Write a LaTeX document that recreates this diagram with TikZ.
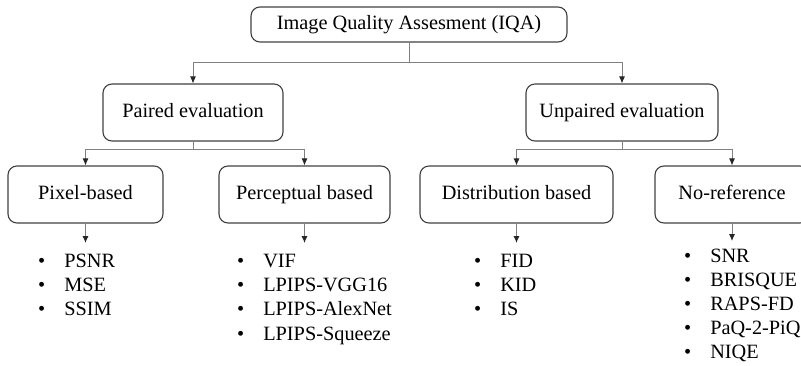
\documentclass[tikz,border=0pt]{standalone}
\usepackage{fontspec}
\setmainfont{Liberation Serif}
\usetikzlibrary{arrows.meta}

\begin{document}
\begin{tikzpicture}[x=1pt, y=-1pt,
    every node/.style={font=\fontsize{20.3}{24.3}\selectfont},
    box/.style={draw=black!75, line width=1.1pt, rounded corners=9pt, minimum height=57pt,
        inner sep=0pt, text height=14pt, text depth=4.5pt},
    conn/.style={draw=black!50, line width=0.9pt},
    arr/.style={conn, -{Latex[length=7pt,width=6pt,color=black!85]}},
    metrics/.style={anchor=north west, inner xsep=0pt, inner ysep=7pt}]
    \useasboundingbox (0,0) rectangle (801,365);
    \clip (0,0) rectangle (801,365);
    % levels of the tree
    \node[box, minimum width=316pt, minimum height=35pt] (iqa) at (409,24.5) {Image Quality Assesment (IQA)};
    \node[box, minimum width=180pt] (paired) at (193,112.5) {Paired evaluation};
    \node[box, minimum width=192pt] (unpaired) at (622,112.5) {Unpaired evaluation};
    \node[box, minimum width=155pt] (pixel) at (85.5,194.5) {Pixel-based};
    \node[box, minimum width=171pt] (percep) at (304.5,194.5) {Perceptual based};
    \node[box, minimum width=193pt] (distr) at (516.5,194.5) {Distribution based};
    \node[box, minimum width=154pt] (noref) at (732,194.5) {No-reference};
    % metric lists
    \node[metrics] (pixlist) at (38,243) {\begin{tabular}{@{}l@{\hspace{19pt}}l@{}}
        \textbullet & PSNR\\ \textbullet & MSE\\ \textbullet & SSIM\end{tabular}};
    \node[metrics] (perclist) at (237,243) {\begin{tabular}{@{}l@{\hspace{19pt}}l@{}}
        \textbullet & VIF\\ \textbullet & LPIPS-VGG16\\ \textbullet & LPIPS-AlexNet\\ \textbullet & LPIPS-Squeeze\end{tabular}};
    \node[metrics] (distlist) at (474,243) {\begin{tabular}{@{}l@{\hspace{19pt}}l@{}}
        \textbullet & FID\\ \textbullet & KID\\ \textbullet & IS\end{tabular}};
    \node[metrics, font=\fontsize{20.3}{23.8}\selectfont] (noreflist) at (684,239) {\begin{tabular}{@{}l@{\hspace{19pt}}l@{}}
        \textbullet & SNR\\ \textbullet & BRISQUE\\ \textbullet & RAPS-FD\\ \textbullet & PaQ-2-PiQ\\ \textbullet & NIQE\end{tabular}};
    % connectors
    \coordinate (j1) at (0,62);
    \coordinate (j2) at (0,149);
    \draw[arr] (iqa.south) -- (iqa.south |- j1) -| (paired.north);
    \draw[arr] (iqa.south) -- (iqa.south |- j1) -| (unpaired.north);
    \draw[arr] (paired.south) -- (paired.south |- j2) -| (pixel.north);
    \draw[arr] (paired.south) -- (paired.south |- j2) -| (percep.north);
    \draw[arr] (unpaired.south) -- (unpaired.south |- j2) -| (distr.north);
    \draw[arr] (unpaired.south) -- (unpaired.south |- j2) -| (noref.north);
    \draw[arr] (pixel) -- (pixel.south |- pixlist.north);
    \draw[arr] (percep) -- (percep.south |- perclist.north);
    \draw[arr] (distr) -- (distr.south |- distlist.north);
    \draw[arr] (noref) -- ([yshift=-2pt]noref.south |- noreflist.north);
\end{tikzpicture}
\end{document}
